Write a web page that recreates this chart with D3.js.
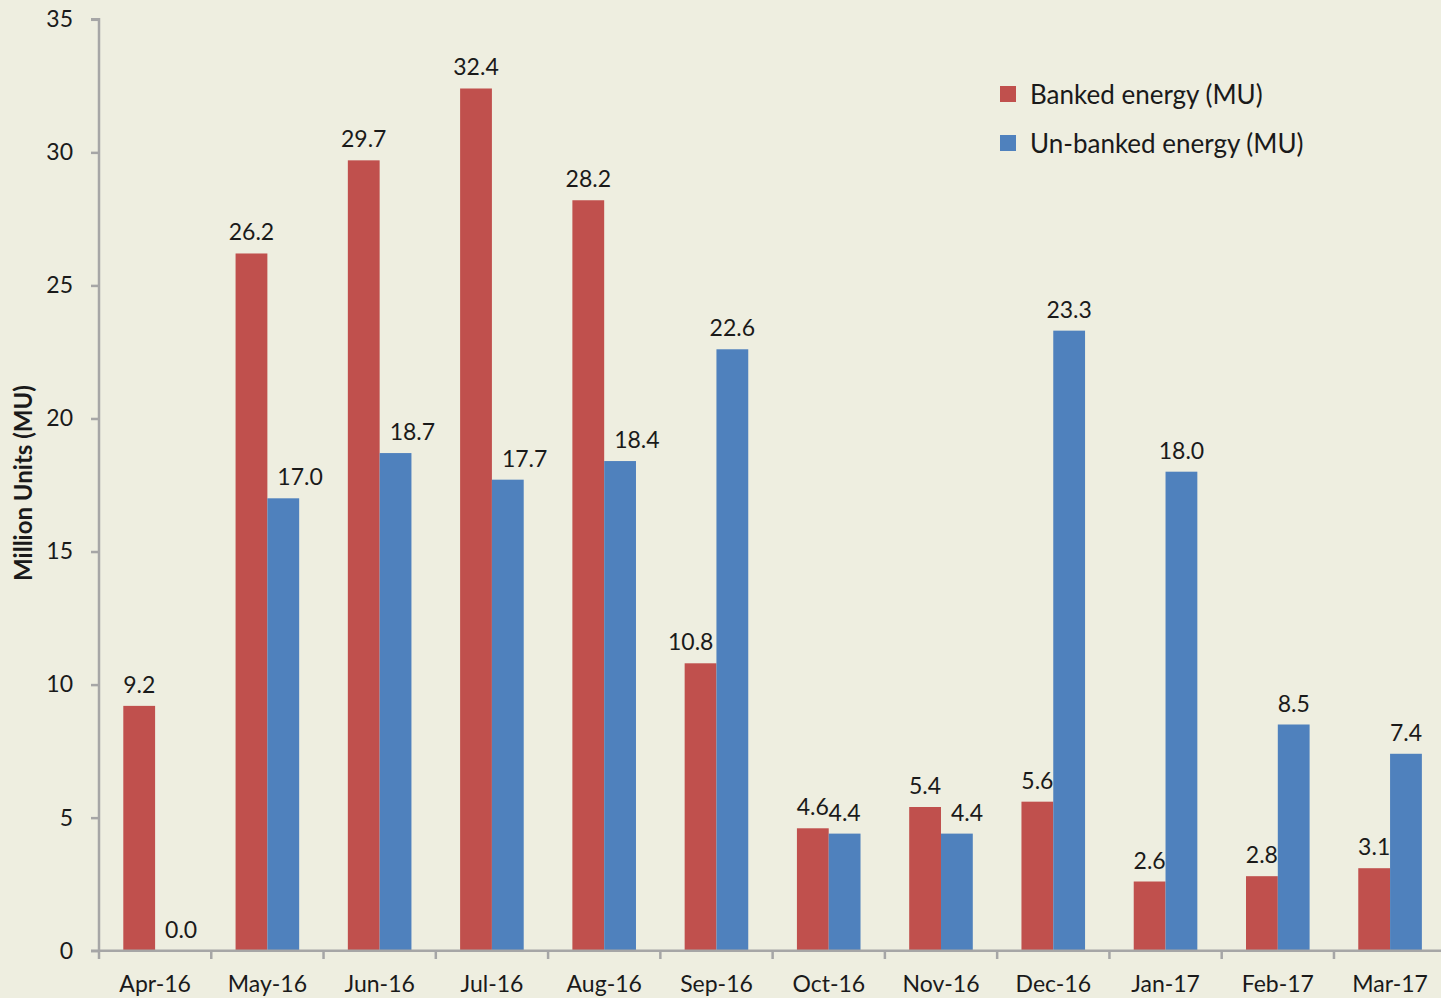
<!DOCTYPE html>
<html>
<head>
<meta charset="utf-8">
<script src="https://cdn.jsdelivr.net/npm/d3@7"></script>
<style>
html,body{margin:0;padding:0;background:#EEEEE0;}
svg{display:block;font-family:Lato,"Open Sans",sans-serif;}
</style>
</head>
<body>
<svg id="chart" width="1441" height="998"></svg>
<script>
const categories = ["Apr-16","May-16","Jun-16","Jul-16","Aug-16","Sep-16","Oct-16","Nov-16","Dec-16","Jan-17","Feb-17","Mar-17"];
const banked = [9.2,26.2,29.7,32.4,28.2,10.8,4.6,5.4,5.6,2.6,2.8,3.1];
const unbanked = [0.0,17.0,18.7,17.7,18.4,22.6,4.4,4.4,23.3,18.0,8.5,7.4];
const seriesNames = ["Banked energy (MU)","Un-banked energy (MU)"];
const colors = ["#C0504D","#4F81BD"];
const yTicks = [0,5,10,15,20,25,30,35];
const yTitle = "Million Units (MU)";

const svg = d3.select("#chart");
svg.append("rect").attr("width",1441).attr("height",998).attr("fill","#EEEEE0");

const x0 = d3.scaleBand().domain(categories).range([99, 99 + 112.27*12]).paddingInner(0).paddingOuter(0);
const x1 = d3.scaleBand().domain([0,1]).range([24.3, 24.3+63.6]);
const y = d3.scaleLinear().domain([0,35]).range([950.7, 19.3]);

const axisColor = "#A6A6A6";
const textColor = "#1a1a1a";
const series = [banked, unbanked];

// bars
series.forEach((vals, si) => {
  svg.append("g").selectAll("rect").data(vals).join("rect")
    .attr("x", (d,i) => x0(categories[i]) + x1(si))
    .attr("width", x1.bandwidth())
    .attr("y", d => y(d))
    .attr("height", d => y(0) - y(d))
    .attr("fill", colors[si]);
});

// data labels (nudged away from a taller neighbouring bar)
series.forEach((vals, si) => {
  const other = series[1 - si];
  svg.append("g").selectAll("text").data(vals).join("text")
    .attr("x", (d,i) => x0(categories[i]) + x1(si) + x1.bandwidth()/2)
    .attr("y", d => y(d) - 22)
    .attr("text-anchor","middle")
    .attr("dominant-baseline","central")
    .attr("font-size", 23)
    .attr("fill", textColor)
    .text(d => d.toFixed(1))
    .each(function(d,i){
      const w = this.getComputedTextLength();
      const labelBottom = y(d) - 22 + 9;
      const otherTop = y(other[i]);
      if (otherTop >= labelBottom) return;
      const barL = x0(categories[i]) + x1(si);
      const barR = barL + x1.bandwidth();
      const cx = barL + x1.bandwidth()/2;
      if (si === 1) {
        const left = cx - w/2;
        const want = barL + 10;
        if (left < want) d3.select(this).attr("x", cx + (want - left));
      } else if (w > x1.bandwidth() + 2) {
        const right = cx + w/2;
        const want = barR - 3;
        if (right > want) d3.select(this).attr("x", cx - (right - want));
      }
    });
});

// y axis
const yAxis = d3.axisLeft(y).tickValues(yTicks).tickSize(8).tickPadding(18).tickFormat(d3.format("d"));
const gy = svg.append("g").attr("transform","translate(99,0)").call(yAxis);
gy.select(".domain").attr("stroke",axisColor).attr("stroke-width",2.5).attr("d","M-8,19.3H0V950.7H-8");
gy.selectAll(".tick line").attr("stroke",axisColor).attr("stroke-width",2.5);
gy.selectAll(".tick text").attr("font-size",23).attr("fill",textColor).attr("font-family","Lato,'Open Sans',sans-serif");

// x axis
const xAxis = d3.axisBottom(x0).tickSize(0).tickPadding(25);
const gx = svg.append("g").attr("transform","translate(0,950.7)").call(xAxis);
gx.select(".domain").attr("stroke",axisColor).attr("stroke-width",2.5).attr("d","M99,0H1441");
gx.selectAll(".tick text").attr("font-size",23).attr("fill",textColor).attr("font-family","Lato,'Open Sans',sans-serif");
svg.append("g").selectAll("line").data(categories).join("line")
  .attr("x1", d => x0(d)).attr("x2", d => x0(d))
  .attr("y1", 950.7).attr("y2", 959)
  .attr("stroke",axisColor).attr("stroke-width",2.5);

// y title
svg.append("text")
  .attr("transform","translate(22,483) rotate(-90)")
  .attr("text-anchor","middle").attr("dominant-baseline","central")
  .attr("font-size",24).attr("font-weight","bold").attr("fill",textColor)
  .text(yTitle);

// legend
const leg = svg.append("g").selectAll("g").data(seriesNames).join("g")
  .attr("transform",(d,i) => `translate(1000,${94 + i*49})`);
leg.append("rect").attr("x",0).attr("y",-8).attr("width",16).attr("height",16).attr("fill",(d,i)=>colors[i]);
leg.append("text").attr("x",30).attr("y",0).attr("dominant-baseline","central")
  .attr("font-size",26).attr("fill",textColor).text(d=>d);
</script>
</body>
</html>
